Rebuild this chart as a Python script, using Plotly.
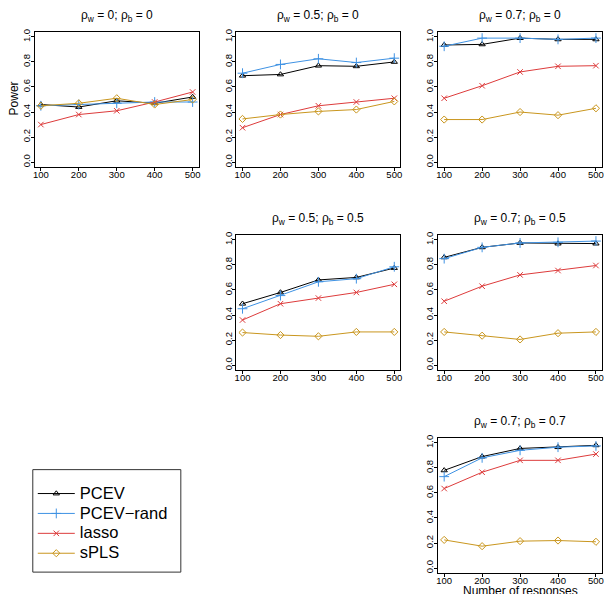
import plotly.graph_objects as go

# ---------------- data ----------------
responses = [100, 200, 300, 400, 500]
methods = ["PCEV", "PCEV\u2212rand", "lasso", "sPLS"]
panel_titles = [
    "\u03c1<sub>w</sub> = 0; \u03c1<sub>b</sub> = 0",
    "\u03c1<sub>w</sub> = 0.5; \u03c1<sub>b</sub> = 0",
    "\u03c1<sub>w</sub> = 0.7; \u03c1<sub>b</sub> = 0",
    "\u03c1<sub>w</sub> = 0.5; \u03c1<sub>b</sub> = 0.5",
    "\u03c1<sub>w</sub> = 0.7; \u03c1<sub>b</sub> = 0.5",
    "\u03c1<sub>w</sub> = 0.7; \u03c1<sub>b</sub> = 0.7",
]
pcev = [
    [0.46, 0.44, 0.49, 0.47, 0.52],
    [0.69, 0.70, 0.77, 0.765, 0.80],
    [0.935, 0.94, 0.99, 0.98, 0.98],
    [0.49, 0.58, 0.68, 0.70, 0.775],
    [0.86, 0.94, 0.975, 0.97, 0.97],
    [0.78, 0.89, 0.955, 0.965, 0.98],
]
pcev_rand = [
    [0.45, 0.46, 0.47, 0.48, 0.48],
    [0.71, 0.78, 0.825, 0.795, 0.83],
    [0.925, 0.99, 0.99, 0.98, 0.99],
    [0.45, 0.555, 0.665, 0.69, 0.785],
    [0.85, 0.94, 0.975, 0.98, 0.99],
    [0.73, 0.88, 0.94, 0.965, 0.975],
]
lasso = [
    [0.30, 0.38, 0.41, 0.48, 0.56],
    [0.275, 0.38, 0.45, 0.48, 0.51],
    [0.51, 0.61, 0.72, 0.765, 0.77],
    [0.36, 0.49, 0.535, 0.58, 0.645],
    [0.51, 0.63, 0.72, 0.755, 0.795],
    [0.635, 0.765, 0.86, 0.86, 0.91],
]
spls = [
    [0.45, 0.47, 0.51, 0.46, 0.50],
    [0.345, 0.38, 0.405, 0.42, 0.485],
    [0.34, 0.34, 0.40, 0.375, 0.43],
    [0.26, 0.24, 0.23, 0.265, 0.265],
    [0.265, 0.235, 0.205, 0.255, 0.265],
    [0.225, 0.175, 0.215, 0.22, 0.21],
]
y_ticks = [0.0, 0.2, 0.4, 0.6, 0.8, 1.0]

# ---------------- style ----------------
W, H = 608, 594
FONT = "Liberation Sans, Arial, Helvetica, sans-serif"
colors = ["#000000", "#3F92E3", "#DD3B3B", "#C9961E"]
symbols = ["triangle-up-open", "cross-thin-open", "x-thin-open", "diamond-open"]
msizes = [5.5, 7, 5.5, 5.5]
series = [pcev, pcev_rand, lasso, spls]

# panel boxes in pixels: (left, right, top, bottom)
col_px = [(33, 198), (236, 401), (439, 604)]
row_px = [(29, 165), (233, 369), (437, 573)]
panel_pos = [(0, 0), (0, 1), (0, 2), (1, 1), (1, 2), (2, 2)]  # (row, col)

fig = go.Figure()
annotations = []
shapes = []

for i, (r, c) in enumerate(panel_pos):
    xl, xr = col_px[c]
    yt, yb = row_px[r]
    ax = "" if i == 0 else str(i + 1)
    for k in range(4):
        fig.add_trace(go.Scatter(
            x=responses, y=series[k][i], mode="lines+markers",
            name="<span style='font-size:16.5px'>" + methods[k] + "</span>",
            legendgroup=methods[k], showlegend=(i == 0),
            line=dict(color=colors[k], width=1),
            marker=dict(symbol=symbols[k], size=msizes[k], color=colors[k],
                        line=dict(color=colors[k], width=1)),
            xaxis="x" + ax, yaxis="y" + ax,
        ))
    xa = dict(domain=[xl / W, xr / W], range=[84, 516], anchor="y" + ax,
              tickmode="array", tickvals=responses, ticks="outside", ticklen=3,
              tickcolor="black", tickwidth=1, showline=True, linecolor="black",
              linewidth=1, mirror=True, showgrid=False, zeroline=False,
              ticklabelstandoff=-5,
              tickfont=dict(family=FONT, size=9.5, color="black"))
    ya = dict(domain=[1 - yb / H, 1 - yt / H], range=[-0.04, 1.04], anchor="x" + ax,
              tickmode="array", tickvals=y_ticks, tickformat=".1f", tickangle=-90,
              ticks="outside", ticklen=3, tickcolor="black", tickwidth=1,
              showline=True, linecolor="black", linewidth=1, mirror=True,
              showgrid=False, zeroline=False, ticklabelstandoff=-3,
              tickfont=dict(family=FONT, size=9.5, color="black"))
    fig.layout["xaxis" + ax] = xa
    fig.layout["yaxis" + ax] = ya
    annotations.append(dict(text=panel_titles[i], xref="paper", yref="paper",
                            x=(xl + xr) / 2 / W, y=1 - (yt - 16) / H,
                            xanchor="center", yanchor="middle", showarrow=False,
                            font=dict(family=FONT, size=12, color="black")))

annotations.append(dict(text="Power", xref="paper", yref="paper", x=12 / W,
                        y=1 - 96 / H, textangle=-90, xanchor="center",
                        yanchor="middle", showarrow=False,
                        font=dict(family=FONT, size=12, color="black")))
annotations.append(dict(text="Number of responses", xref="paper", yref="paper",
                        x=(439 + 604) / 2 / W, y=1 - 590.5 / H, xanchor="center",
                        yanchor="middle", showarrow=False,
                        font=dict(family=FONT, size=12, color="black")))

# legend frame
shapes.append(dict(type="rect", xref="paper", yref="paper",
                   x0=31 / W, x1=180 / W, y0=1 - 572 / H, y1=1 - 469 / H,
                   line=dict(color="#333333", width=1), fillcolor="rgba(0,0,0,0)"))

fig.update_layout(
    width=W, height=H, margin=dict(l=0, r=0, t=0, b=0),
    paper_bgcolor="white", plot_bgcolor="white",
    annotations=annotations, shapes=shapes,
    legend=dict(x=31 / W, y=1 - 478 / H, xanchor="left", yanchor="top",
                bgcolor="rgba(0,0,0,0)", borderwidth=0,
                font=dict(family=FONT, size=13, color="black"),
                itemwidth=37, tracegroupgap=0),
)

fig.write_html("out.html", config={"displayModeBar": False},
               post_script="document.body.style.margin='0';")
